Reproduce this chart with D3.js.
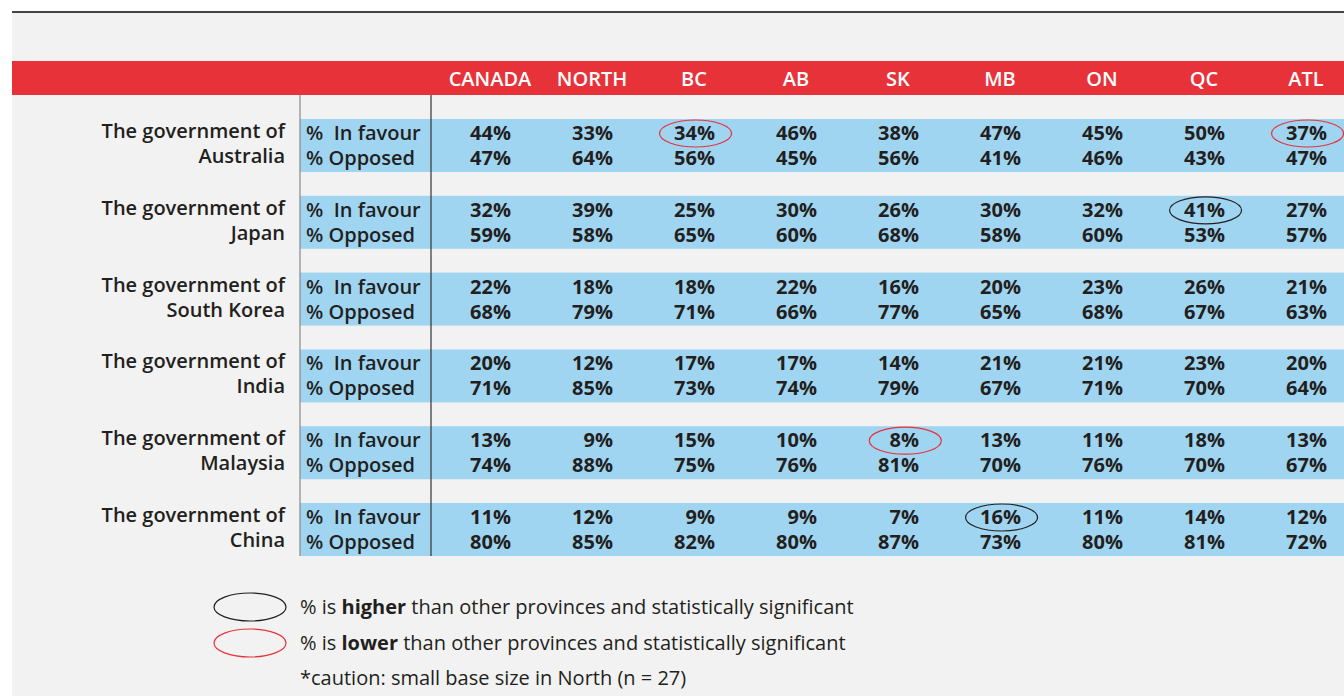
<!DOCTYPE html>
<html lang="en">
<head>
<meta charset="UTF-8">
<title>Favourability</title>
<style>
  body { margin: 0; background: #fff; }
  text { font-family: "Open Sans", "Noto Sans", sans-serif; }
</style>
</head>
<body>
<script src="https://d3js.org/d3.v7.min.js"></script>
<script>
  // regions (columns)
  var regions = ["CANADA", "NORTH", "BC", "AB", "SK", "MB", "ON", "QC", "ATL"];
  var countries = ["Australia", "Japan", "South Korea", "India", "Malaysia", "China"];
  var inFavour = [
    [44, 33, 34, 46, 38, 47, 45, 50, 37],
    [32, 39, 25, 30, 26, 30, 32, 41, 27],
    [22, 18, 18, 22, 16, 20, 23, 26, 21],
    [20, 12, 17, 17, 14, 21, 21, 23, 20],
    [13, 9, 15, 10, 8, 13, 11, 18, 13],
    [11, 12, 9, 9, 7, 16, 11, 14, 12]
  ];
  var opposed = [
    [47, 64, 56, 45, 56, 41, 46, 43, 47],
    [59, 58, 65, 60, 68, 58, 60, 53, 57],
    [68, 79, 71, 66, 77, 65, 68, 67, 63],
    [71, 85, 73, 74, 79, 67, 71, 70, 64],
    [74, 88, 75, 76, 81, 70, 76, 70, 67],
    [80, 85, 82, 80, 87, 73, 80, 81, 72]
  ];
  // significance marks on "in favour" values: [row, col, type]
  var marks = [
    [0, 2, "lower"], [0, 8, "lower"],
    [1, 7, "higher"],
    [4, 4, "lower"],
    [5, 5, "higher"]
  ];

  const W = 1344, H = 696;
  const ink = "#231f20", red = "#e8323a";
  const svg = d3.select("body").append("svg").attr("width", W).attr("height", H);

  // panel + top rule
  svg.append("rect").attr("x", 12).attr("y", 12).attr("width", W - 12).attr("height", H - 12).attr("fill", "#f2f2f2");
  svg.append("line").attr("x1", 12).attr("x2", W).attr("y1", 12).attr("y2", 12)
    .attr("stroke", "#444").attr("stroke-width", 2);

  // header band
  svg.append("rect").attr("x", 12).attr("y", 61).attr("width", W - 12).attr("height", 34).attr("fill", red);

  var x = d3.scaleBand().domain(regions).range([439, 1357]);
  var y = d3.scaleBand().domain(countries).range([119, 556]).paddingInner(0.31).paddingOuter(0);
  var cx = function(d) { return x(d) + x.bandwidth() / 2; };

  svg.selectAll(".hdr").data(regions).enter().append("text")
    .attr("x", cx)
    .attr("y", 86)
    .attr("text-anchor", "middle")
    .attr("fill", "#fff")
    .attr("font-size", 20)
    .attr("font-weight", 600)
    .text(function(d) { return d; });

  // blue row bands
  svg.selectAll(".band").data(countries).enter().append("rect")
    .attr("x", 300).attr("y", function(d) { return y(d); })
    .attr("width", W - 300).attr("height", y.bandwidth())
    .attr("fill", "#a0d5f2");

  // vertical rules
  [300, 431].forEach(function(v, i) {
    svg.append("line").attr("x1", v).attr("x2", v).attr("y1", 95).attr("y2", 556)
      .attr("stroke", i ? "#333" : "#888").attr("stroke-width", 1.2);
  });

  var row = svg.selectAll(".row").data(countries).enter().append("g")
    .attr("transform", function(d) { return "translate(0," + y(d) + ")"; });

  row.append("text").attr("x", 285).attr("y", 19).attr("text-anchor", "end")
    .attr("font-size", 20).attr("font-weight", 600).attr("fill", ink)
    .text("The government of");
  row.append("text").attr("x", 285).attr("y", 44).attr("text-anchor", "end")
    .attr("font-size", 20).attr("font-weight", 600).attr("fill", ink)
    .text(function(d) { return d; });
  row.append("text").attr("x", 306).attr("y", 21)
    .attr("font-size", 20).attr("font-weight", 600).attr("fill", ink)
    .attr("xml:space", "preserve")
    .text("%  In favour");
  row.append("text").attr("x", 306).attr("y", 46)
    .attr("font-size", 20).attr("font-weight", 600).attr("fill", ink)
    .text("% Opposed");

  row.each(function(c, ri) {
    var g = d3.select(this);
    g.selectAll(".fav").data(inFavour[ri]).enter().append("text")
      .attr("class", function(d, i) { return "fav r" + ri + "c" + i; })
      .attr("x", function(d, i) { return cx(regions[i]) + 21; })
      .attr("y", 21).attr("text-anchor", "end")
      .attr("font-size", 20).attr("font-weight", 700).attr("fill", ink)
      .text(function(d) { return d + "%"; });
    g.selectAll(".opp").data(opposed[ri]).enter().append("text")
      .attr("x", function(d, i) { return cx(regions[i]) + 21; })
      .attr("y", 46).attr("text-anchor", "end")
      .attr("font-size", 20).attr("font-weight", 700).attr("fill", ink)
      .text(function(d) { return d + "%"; });
  });

  // significance ellipses, centred on the marked value
  svg.selectAll(".mark").data(marks).enter().append("ellipse")
    .attr("cx", function(d) {
      var b = svg.select(".r" + d[0] + "c" + d[1]).node().getBBox();
      return b.x + b.width / 2 + 1;
    })
    .attr("cy", function(d) { return y(countries[d[0]]) + 14.5; })
    .attr("rx", 36).attr("ry", 13.5)
    .attr("fill", "none")
    .attr("stroke", function(d) { return d[2] === "higher" ? ink : red; })
    .attr("stroke-width", 1.2);

  // legend
  var legend = [
    { color: ink, pre: "% is ", bold: "higher", post: " than other provinces and statistically significant" },
    { color: red, pre: "% is ", bold: "lower", post: " than other provinces and statistically significant" }
  ];
  var lg = svg.selectAll(".lg").data(legend).enter().append("g")
    .attr("transform", function(d, i) { return "translate(0," + (607 + i * 36) + ")"; });
  lg.append("ellipse").attr("cx", 250).attr("cy", 0).attr("rx", 36).attr("ry", 14)
    .attr("fill", "none").attr("stroke", function(d) { return d.color; }).attr("stroke-width", 1.2);
  var lt = lg.append("text").attr("x", 300).attr("y", 7).attr("font-size", 20).attr("fill", ink);
  lt.append("tspan").text(function(d) { return d.pre; });
  lt.append("tspan").attr("font-weight", 700).text(function(d) { return d.bold; });
  lt.append("tspan").text(function(d) { return d.post; });
  svg.append("text").attr("x", 300).attr("y", 685).attr("font-size", 20).attr("fill", ink)
    .text("*caution: small base size in North (n = 27)");
</script>
</body>
</html>
